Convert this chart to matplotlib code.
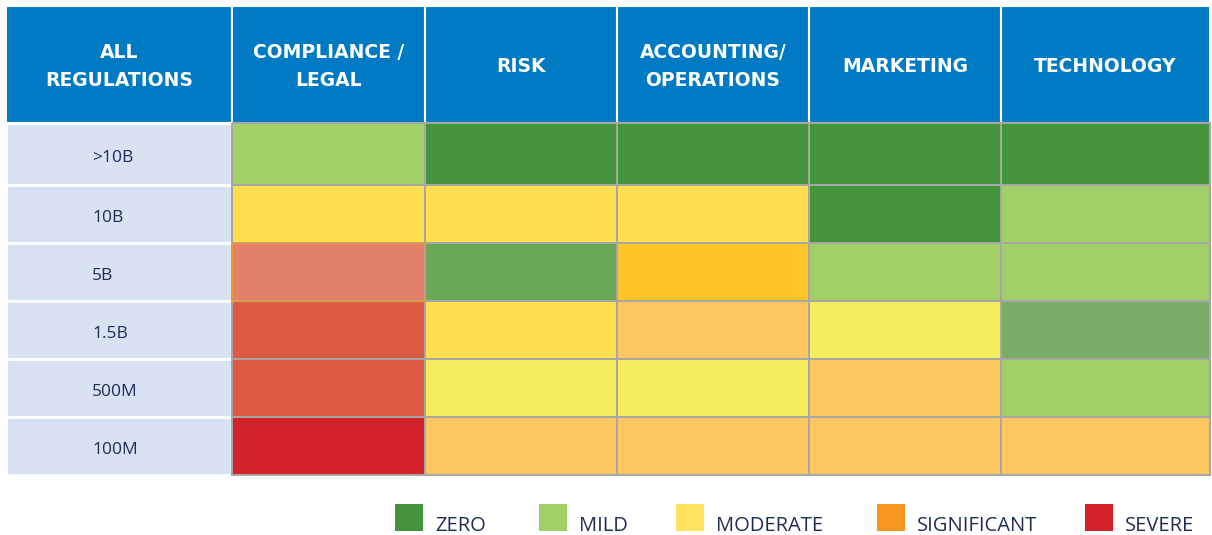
import numpy as np
import matplotlib.pyplot as plt
from matplotlib.colors import ListedColormap

# table content
columns = ['ALL\nREGULATIONS', 'COMPLIANCE /\nLEGAL', 'RISK',
           'ACCOUNTING/\nOPERATIONS', 'MARKETING', 'TECHNOLOGY']
rows = ['>10B', '10B', '5B', '1.5B', '500M', '100M']

# impact grade per cell (row x department)
impact = [
    ['mild', 'zero', 'zero', 'zero', 'zero'],
    ['moderate', 'moderate', 'moderate', 'zero', 'mild'],
    ['severe_light', 'zero_light', 'significant_mid', 'mild', 'mild'],
    ['severe_mid', 'moderate', 'significant_light', 'moderate_light', 'zero_muted'],
    ['severe_mid', 'moderate_light', 'moderate_light', 'significant_light', 'mild'],
    ['severe', 'significant_light', 'significant_light', 'significant_light', 'significant_light'],
]

legend_labels = ['ZERO', 'MILD', 'MODERATE', 'SIGNIFICANT', 'SEVERE']

palette = {
    'zero': '#43943a',
    'zero_light': '#69a655',
    'zero_muted': '#7aac67',
    'mild': '#a2cf67',
    'moderate': '#ffdf50',
    'moderate_light': '#f5ec5e',
    'significant_mid': '#ffc425',
    'significant_light': '#fec65f',
    'severe_light': '#e3806a',
    'severe_mid': '#dc5a42',
    'severe': '#d2232a',
}
legend_colors = ['#43943a', '#a2cf67', '#ffe25e', '#f7961e', '#d2232a']

HEADER = '#007ac2'
LABEL_BG = '#d9e2f3'
NAVY = '#1f2d55'
GRID = '#a6a6a6'

# layout in pixels
col_edges = np.array([6, 232, 425, 617, 809, 1001, 1210])
row_edges = np.array([123, 185, 243, 301, 359, 417, 475])
head_top = 6

fig = plt.figure(figsize=(12.12, 5.35), dpi=100)
ax = fig.add_axes([0, 0, 1, 1])
ax.set_xlim(0, 1212)
ax.set_ylim(535, 0)
ax.axis('off')

# header row
for i, name in enumerate(columns):
    x0, x1 = col_edges[i], col_edges[i + 1]
    ax.bar(x0, row_edges[0] - head_top, width=x1 - x0, bottom=head_top,
           align='edge', color=HEADER, edgecolor='white', linewidth=1.5)
    ax.text((x0 + x1) / 2, (head_top + row_edges[0]) / 2 + 2, name,
            ha='center', va='center', color='white', fontsize=13.5,
            fontweight='bold', family='DejaVu Sans', linespacing=1.65)

# row labels
for j, name in enumerate(rows):
    y0, y1 = row_edges[j], row_edges[j + 1]
    ax.bar(col_edges[0], y1 - y0, width=col_edges[1] - col_edges[0], bottom=y0,
           align='edge', color=LABEL_BG, edgecolor='white', linewidth=2)
    ax.text(92, (y0 + y1) / 2 + 4, name, ha='left', va='center',
            color=NAVY, fontsize=12.5, family='Open Sans')

# heat cells
keys = list(palette.keys())
codes = np.array([[keys.index(c) for c in r] for r in impact])
cmap = ListedColormap([palette[k] for k in keys])
ax.pcolormesh(col_edges[1:], row_edges, codes, cmap=cmap,
              vmin=-0.5, vmax=len(keys) - 0.5,
              edgecolors=GRID, linewidth=1.2)
# thin orange outline on the 5B compliance cell
ax.bar(col_edges[1], row_edges[3] - row_edges[2], width=col_edges[2] - col_edges[1],
       bottom=row_edges[2], align='edge', fill=False, edgecolor='#f7961e',
       linewidth=1)

# legend
sq_x = [395, 539, 676, 877, 1085]
for k, lab in enumerate(legend_labels):
    ax.bar(sq_x[k], 27, width=28, bottom=504, align='edge',
           color=legend_colors[k], linewidth=0)
    ax.text(sq_x[k] + 40, 531, lab, ha='left', va='baseline',
            color=NAVY, fontsize=14.5, family='Open Sans')

fig.savefig('out.png', dpi=100)
